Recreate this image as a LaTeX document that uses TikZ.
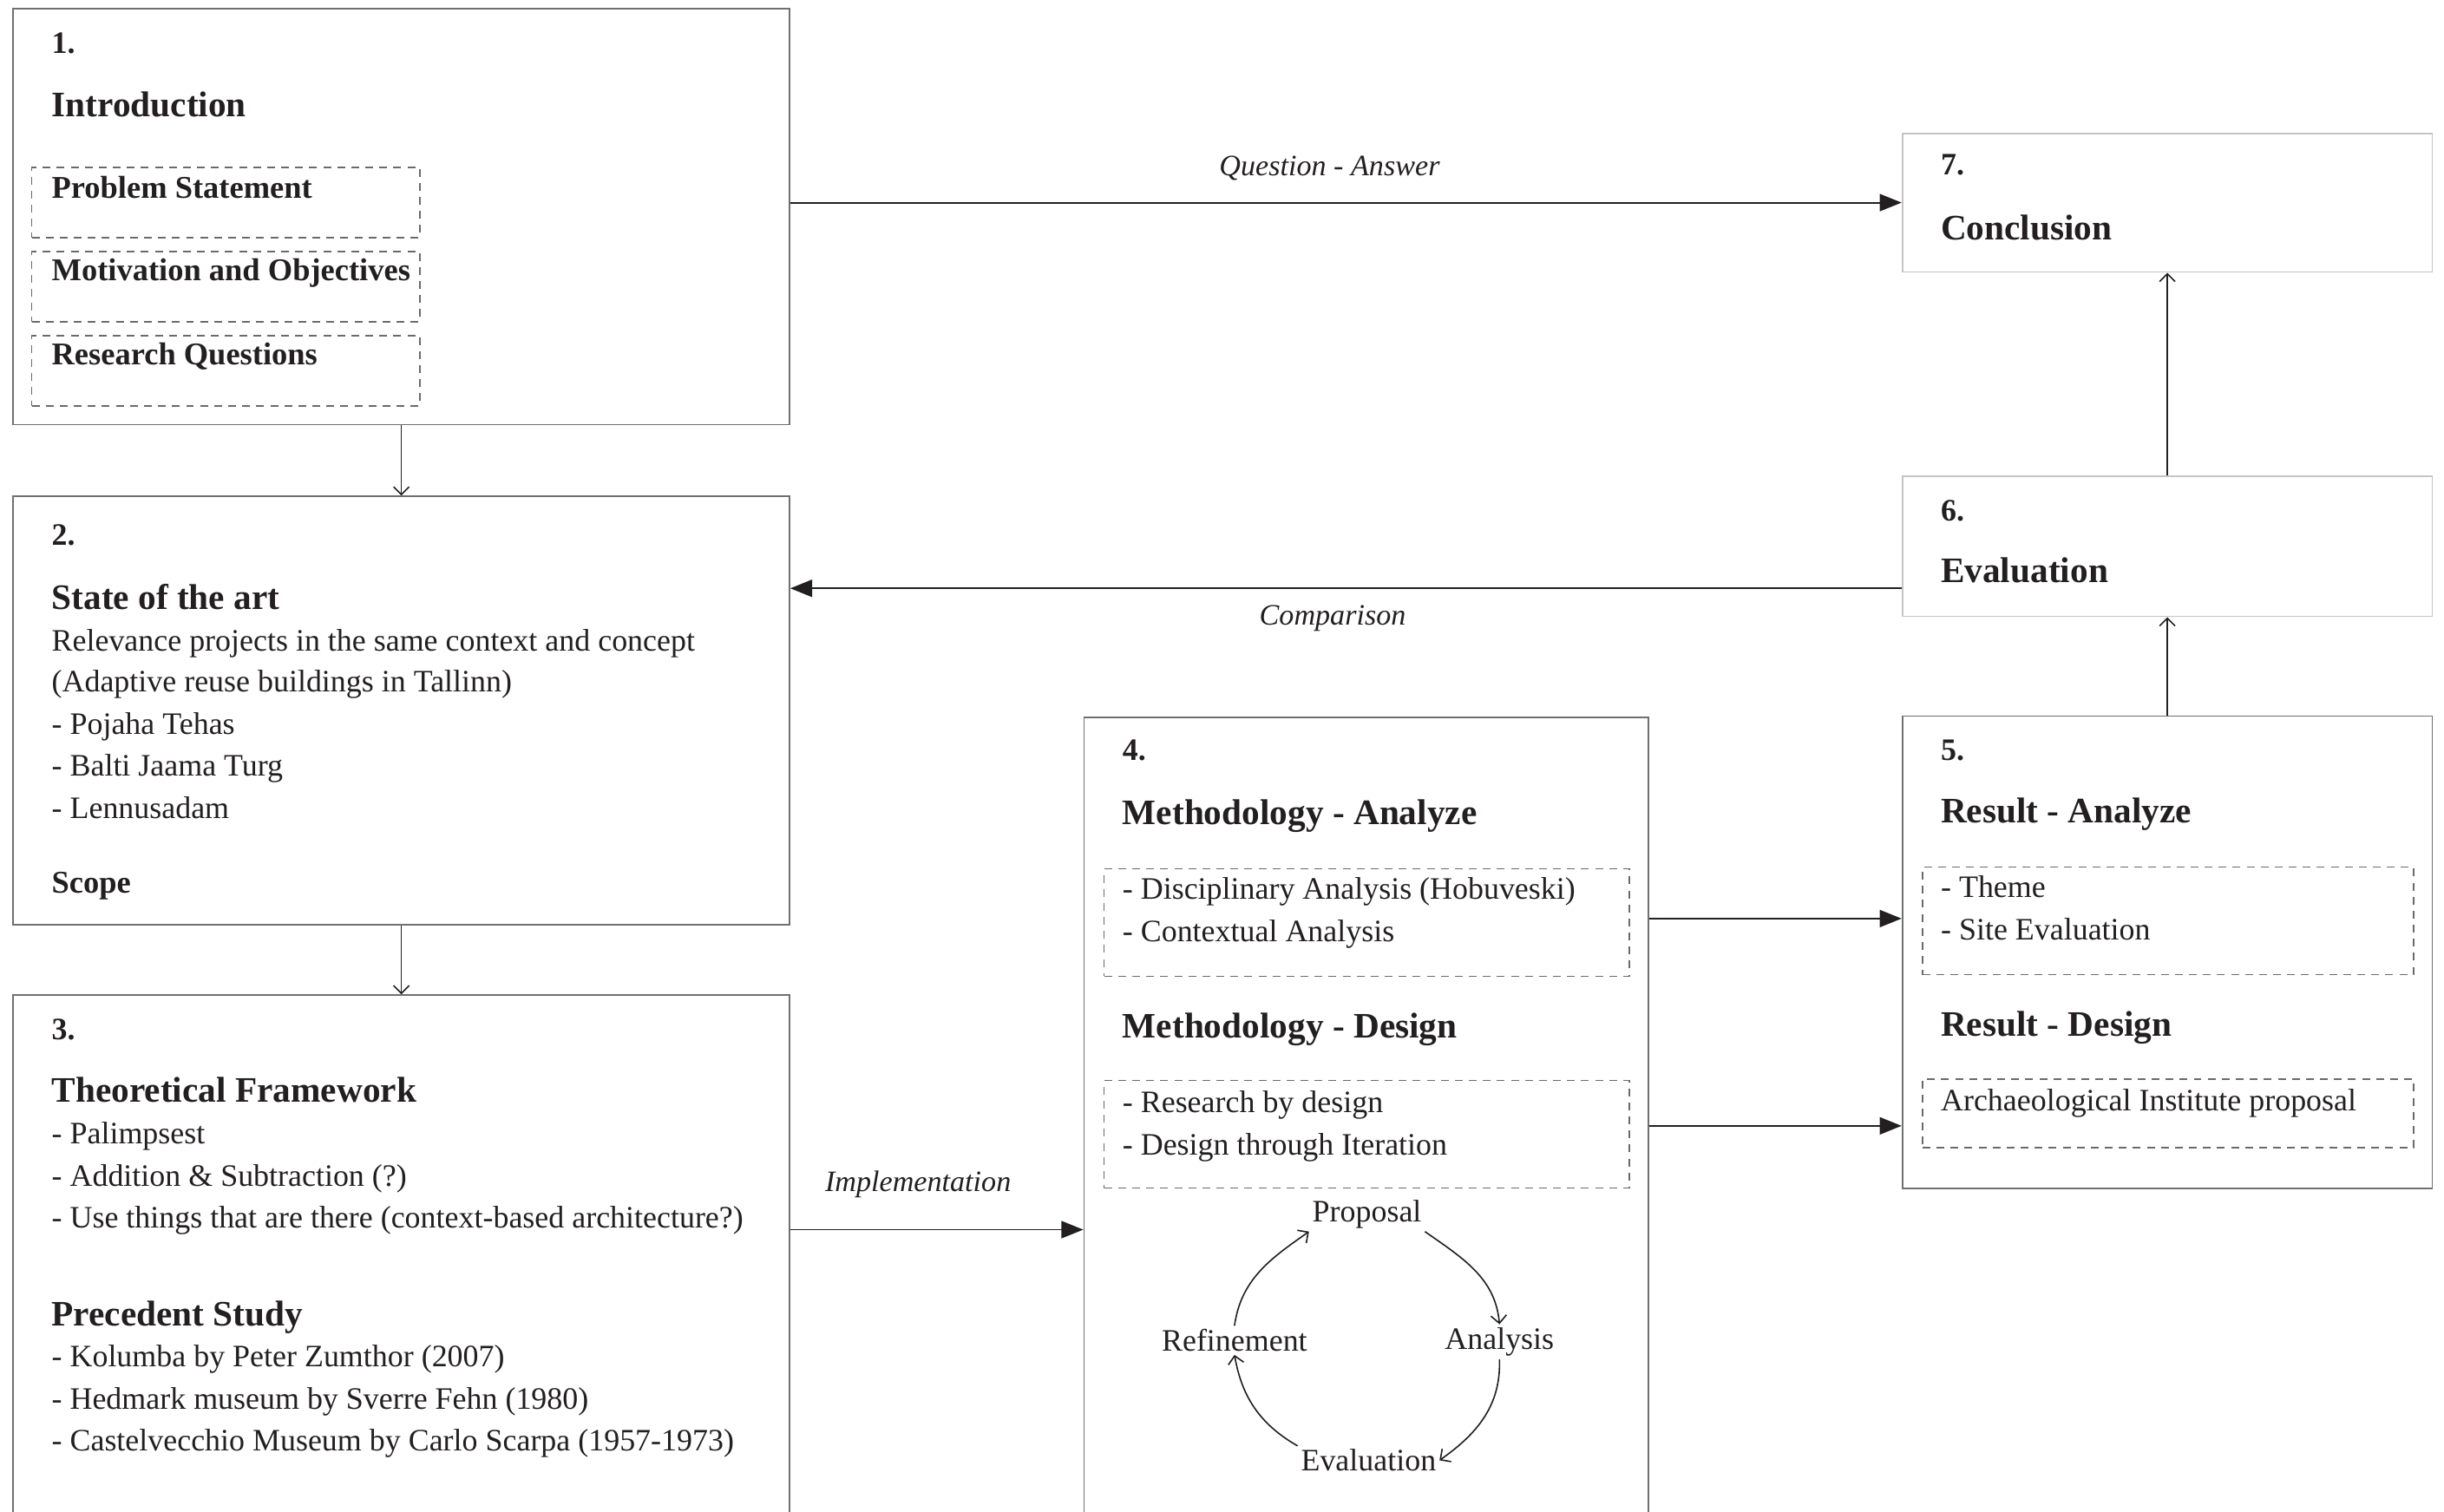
\documentclass[tikz,border=0pt]{standalone}
\usepackage{fontspec}
\setmainfont{Liberation Serif}
\usetikzlibrary{arrows.meta}
\definecolor{ink}{HTML}{231F20}
\definecolor{edge}{HTML}{707070}
\definecolor{lightedge}{HTML}{C4C4C4}
\definecolor{dashc}{HTML}{6A6A6A}
\begin{document}
\begin{tikzpicture}[x=1pt,y=1pt,
  box/.style={draw=edge, line width=1pt, anchor=north west, inner sep=0pt},
  lbox/.style={draw=lightedge, line width=1pt, anchor=north west, inner sep=0pt},
  dbox/.style={draw=dashc, line width=0.8pt, dash pattern=on 5pt off 4pt, anchor=north west, inner sep=0pt},
  txt/.style={anchor=base west, inner sep=0pt, text=ink},
  num/.style={txt, font=\bfseries\fontsize{20}{24}\selectfont},
  head/.style={txt, font=\bfseries\fontsize{23}{27}\selectfont},
  sub/.style={txt, font=\bfseries\fontsize{20.3}{24}\selectfont},
  body/.style={txt, font=\fontsize{20}{24}\selectfont},
  lab/.style={anchor=center, inner sep=0pt, text=ink, font=\itshape\fontsize{19}{23}\selectfont},
  cyc/.style={anchor=center, inner sep=2pt, text=ink, font=\fontsize{20}{24}\selectfont},
  farr/.style={draw=ink, line width=1.1pt, -{Triangle[length=14pt,width=11pt]}},
  oarr/.style={draw=ink, line width=0.9pt, -{Straight Barb[length=5pt,width=10pt]}}
]
\useasboundingbox (0,0) rectangle (1568,-970);
\clip (0,0) rectangle (1568,-970);

% ---------- Box 1 ----------
\node[box, minimum width=498pt, minimum height=267pt] (b1) at (8,-5) {};
\node[num] (n1) at (33,-34) {1.};
\node[head] (h1) at (33,-75) {Introduction};
\node[dbox, minimum width=249pt, minimum height=45pt] (d1a) at (20,-107) {};
\node[dbox, minimum width=249pt, minimum height=45pt] (d1b) at (20,-161) {};
\node[dbox, minimum width=249pt, minimum height=45pt] (d1c) at (20,-215) {};
\node[sub] (s1a) at (33,-127) {Problem Statement};
\node[sub] (s1b) at (33,-180) {Motivation and Objectives};
\node[sub] (s1c) at (33,-234) {Research Questions};

% ---------- Box 2 ----------
\node[box, minimum width=498pt, minimum height=275pt] (b2) at (8,-318) {};
\node[num] (n2) at (33,-350) {2.};
\node[head] (h2) at (33,-391) {State of the art};
\node[body] (t2a) at (33,-418) {Relevance projects in the same context and concept};
\node[body] (t2b) at (33,-444) {(Adaptive reuse buildings in Tallinn)};
\node[body] (t2c) at (33,-471) {- Pojaha Tehas};
\node[body] (t2d) at (33,-498) {- Balti Jaama Turg};
\node[body] (t2e) at (33,-525) {- Lennusadam};
\node[sub] (s2) at (33,-573) {Scope};

% ---------- Box 3 ----------
\node[box, minimum width=498pt, minimum height=340pt] (b3) at (8,-638) {};
\node[num] (n3) at (33,-667) {3.};
\node[head] (h3a) at (33,-707) {Theoretical Framework};
\node[body] (t3a) at (33,-734) {- Palimpsest};
\node[body] (t3b) at (33,-761) {- Addition \& Subtraction (?)};
\node[body] (t3c) at (33,-788) {- Use things that are there (context-based architecture?)};
\node[head] (h3b) at (33,-851) {Precedent Study};
\node[body] (t3d) at (33,-877) {- Kolumba by Peter Zumthor (2007)};
\node[body] (t3e) at (33,-904) {- Hedmark museum by Sverre Fehn (1980)};
\node[body] (t3f) at (33,-931) {- Castelvecchio Museum by Carlo Scarpa (1957-1973)};

% ---------- Box 4 ----------
\node[box, minimum width=362pt, minimum height=520pt] (b4) at (695,-460) {};
\node[num] (n4) at (720,-488) {4.};
\node[head] (h4a) at (720,-529) {Methodology - Analyze};
\node[dbox, minimum width=337pt, minimum height=69pt] (d4a) at (708,-557) {};
\node[body] (t4a) at (720,-577) {- Disciplinary Analysis (Hobuveski)};
\node[body] (t4b) at (720,-604) {- Contextual Analysis};
\node[head] (h4b) at (720,-666) {Methodology - Design};
\node[dbox, minimum width=337pt, minimum height=69pt] (d4d) at (708,-693) {};
\node[body] (t4c) at (720,-714) {- Research by design};
\node[body] (t4d) at (720,-741) {- Design through Iteration};
% cycle
\node[cyc] (cp) at (877,-779) {Proposal};
\node[cyc] (ca) at (962,-861) {Analysis};
\node[cyc] (ce) at (878,-937) {Evaluation};
\node[cyc] (cr) at (792,-860) {Refinement};
\draw[oarr] (cp.south east) to[out=-35, in=95] (ca.north);
\draw[oarr] (ca.south) to[out=-88, in=35] (ce.east);
\draw[oarr] (ce.north west) to[out=150, in=-80] (cr.south);
\draw[oarr] (cr.north) to[out=82, in=215] (cp.south west);

% ---------- Box 5 ----------
\node[box, minimum width=340pt, minimum height=303pt] (b5) at (1220,-459) {};
\node[num] (n5) at (1245,-488) {5.};
\node[head] (h5a) at (1245,-528) {Result - Analyze};
\node[dbox, minimum width=315pt, minimum height=69pt] (d5a) at (1233,-556) {};
\node[body] (t5a) at (1245,-576) {- Theme};
\node[body] (t5b) at (1245,-603) {- Site Evaluation};
\node[head] (h5b) at (1245,-665) {Result - Design};
\node[dbox, minimum width=315pt, minimum height=44pt] (d5d) at (1233,-692) {};
\node[body] (t5c) at (1245,-713) {Archaeological Institute proposal};

% ---------- Box 6 ----------
\node[lbox, minimum width=340pt, minimum height=90pt] (b6) at (1220,-305) {};
\node[num] (n6) at (1245,-334) {6.};
\node[head] (h6) at (1245,-374) {Evaluation};

% ---------- Box 7 ----------
\node[lbox, minimum width=340pt, minimum height=89pt] (b7) at (1220,-85) {};
\node[num] (n7) at (1245,-112) {7.};
\node[head] (h7) at (1245,-154) {Conclusion};

% ---------- connectors ----------
\draw[farr] (b1.east |- b7.west) -- (b7.west);
\node[lab] (lqa) at (853,-108) {Question - Answer};

\draw[oarr] (b1.south) -- (b2.north);
\draw[oarr] (b2.south) -- (b3.north);

\coordinate (c62) at ([yshift=-27pt]b6.west);
\draw[farr] (c62) -- (c62 -| b2.east);
\node[lab] (lcmp) at (855,-397) {Comparison};

\coordinate (c34) at ([yshift=19.5pt]b3.east);
\draw[farr] (c34) -- (c34 -| b4.west);
\node[lab] (limp) at (589,-760) {Implementation};

\coordinate (c45a) at ([yshift=1.5pt]d5a.west);
\draw[farr] (c45a -| b4.east) -- (c45a -| b5.west);
\coordinate (c45) at ([yshift=5.5pt]d4d.east);
\draw[farr] (c45 -| b4.east) -- (c45 -| b5.west);

\draw[oarr] (b5.north) -- (b6.south);
\draw[oarr] (b6.north) -- (b7.south);
\end{tikzpicture}
\end{document}
